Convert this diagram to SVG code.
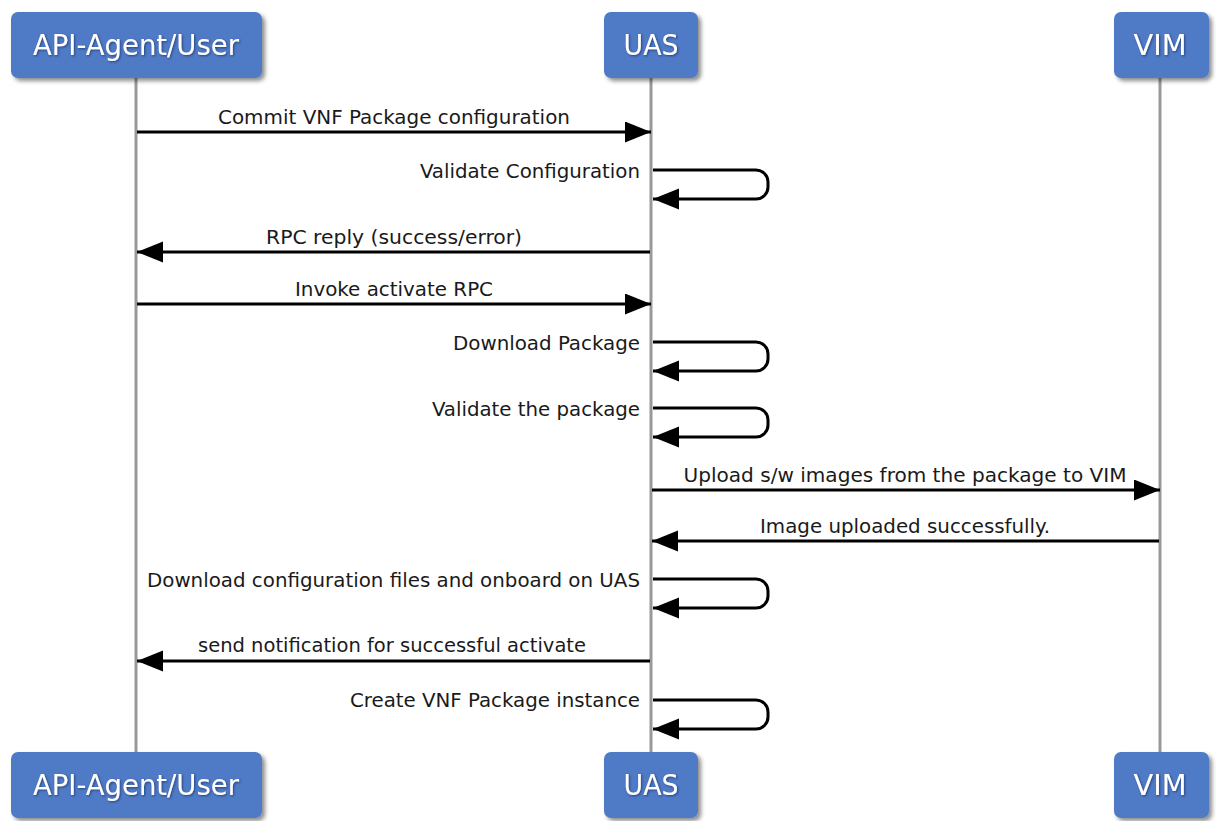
<svg xmlns="http://www.w3.org/2000/svg" width="1220" height="821" viewBox="0 0 1220 821">
<style>
.box{fill:#4f7ac6;stroke:none;filter:url(#sh);}
.bt{font-family:Tahoma,"DejaVu Sans Condensed","DejaVu Sans",sans-serif;font-size:28px;fill:#ffffff;text-anchor:middle;filter:url(#tsh);}
.life{stroke:#999999;stroke-width:3;fill:none;}
.msg{stroke:#000000;stroke-width:3;fill:none;marker-end:url(#ah);}
.lbl{font-family:Tahoma,"DejaVu Sans Condensed","DejaVu Sans",sans-serif;font-size:20px;fill:#1a1a1a;}
.c{text-anchor:middle;}
.r{text-anchor:end;}
</style>
<defs>
<filter id="sh" x="-20%" y="-20%" width="150%" height="160%">
<feDropShadow dx="3" dy="3" stdDeviation="2.2" flood-color="#000000" flood-opacity="0.45"/>
</filter>
<filter id="tsh" x="-10%" y="-20%" width="130%" height="150%">
<feDropShadow dx="1" dy="1" stdDeviation="0.8" flood-color="#1d3566" flood-opacity="0.8"/>
</filter>
<marker id="ah" markerUnits="userSpaceOnUse" markerWidth="28" markerHeight="22" refX="26" refY="10.5" orient="auto">
<path d="M0,0 L26,10.5 L0,21 Z" fill="#000000"/>
</marker>
</defs>
<rect width="1220" height="821" fill="#ffffff"/>
<g id="lifelines">
<line class="life" x1="136" y1="78" x2="136" y2="752"/>
<line class="life" x1="651" y1="78" x2="651" y2="752"/>
<line class="life" x1="1160" y1="78" x2="1160" y2="752"/>
</g>
<g id="node-api-top"><rect class="box" x="11" y="12" width="251" height="66" rx="7"/><text class="bt" x="136" y="55" textLength="206" lengthAdjust="spacingAndGlyphs">API-Agent/User</text></g>
<g id="node-uas-top"><rect class="box" x="604" y="12" width="94" height="66" rx="7"/><text class="bt" x="651" y="55" textLength="55" lengthAdjust="spacingAndGlyphs">UAS</text></g>
<g id="node-vim-top"><rect class="box" x="1114" y="12" width="95" height="66" rx="7"/><text class="bt" x="1160" y="55" textLength="53" lengthAdjust="spacingAndGlyphs">VIM</text></g>
<g id="node-api-bottom"><rect class="box" x="11" y="752" width="251" height="66" rx="7"/><text class="bt" x="136" y="795" textLength="206" lengthAdjust="spacingAndGlyphs">API-Agent/User</text></g>
<g id="node-uas-bottom"><rect class="box" x="604" y="752" width="94" height="66" rx="7"/><text class="bt" x="651" y="795" textLength="55" lengthAdjust="spacingAndGlyphs">UAS</text></g>
<g id="node-vim-bottom"><rect class="box" x="1114" y="752" width="95" height="66" rx="7"/><text class="bt" x="1160" y="795" textLength="53" lengthAdjust="spacingAndGlyphs">VIM</text></g>
<g id="connectors">
<line class="msg" x1="137" y1="132" x2="651" y2="132"/>
<path class="msg" d="M653,170 H756 A12,12 0 0 1 768,182 V187 A12,12 0 0 1 756,199 H653"/>
<line class="msg" x1="650" y1="252" x2="137" y2="252"/>
<line class="msg" x1="137" y1="304" x2="651" y2="304"/>
<path class="msg" d="M653,342 H756 A12,12 0 0 1 768,354 V359 A12,12 0 0 1 756,371 H653"/>
<path class="msg" d="M653,408 H756 A12,12 0 0 1 768,420 V425 A12,12 0 0 1 756,437 H653"/>
<line class="msg" x1="652" y1="490" x2="1160" y2="490"/>
<line class="msg" x1="1159" y1="541" x2="652" y2="541"/>
<path class="msg" d="M653,579 H756 A12,12 0 0 1 768,591 V596 A12,12 0 0 1 756,608 H653"/>
<line class="msg" x1="650" y1="661" x2="137" y2="661"/>
<path class="msg" d="M653,700 H756 A12,12 0 0 1 768,712 V717 A12,12 0 0 1 756,729 H653"/>
</g>
<g id="labels">
<text class="lbl c" x="394" y="124" textLength="352" lengthAdjust="spacingAndGlyphs">Commit VNF Package configuration</text>
<text class="lbl r" x="640" y="178" textLength="220" lengthAdjust="spacingAndGlyphs">Validate Configuration</text>
<text class="lbl c" x="394" y="244" textLength="256" lengthAdjust="spacingAndGlyphs">RPC reply (success/error)</text>
<text class="lbl c" x="394" y="296" textLength="198" lengthAdjust="spacingAndGlyphs">Invoke activate RPC</text>
<text class="lbl r" x="640" y="350" textLength="187" lengthAdjust="spacingAndGlyphs">Download Package</text>
<text class="lbl r" x="640" y="416" textLength="208" lengthAdjust="spacingAndGlyphs">Validate the package</text>
<text class="lbl c" x="905" y="482" textLength="443" lengthAdjust="spacingAndGlyphs">Upload s/w images from the package to VIM</text>
<text class="lbl c" x="905" y="533" textLength="290" lengthAdjust="spacingAndGlyphs">Image uploaded successfully.</text>
<text class="lbl r" x="640" y="587" textLength="493" lengthAdjust="spacingAndGlyphs">Download configuration files and onboard on UAS</text>
<text class="lbl c" x="392" y="652" textLength="388" lengthAdjust="spacingAndGlyphs">send notification for successful activate</text>
<text class="lbl r" x="640" y="707" textLength="290" lengthAdjust="spacingAndGlyphs">Create VNF Package instance</text>
</g>
</svg>
